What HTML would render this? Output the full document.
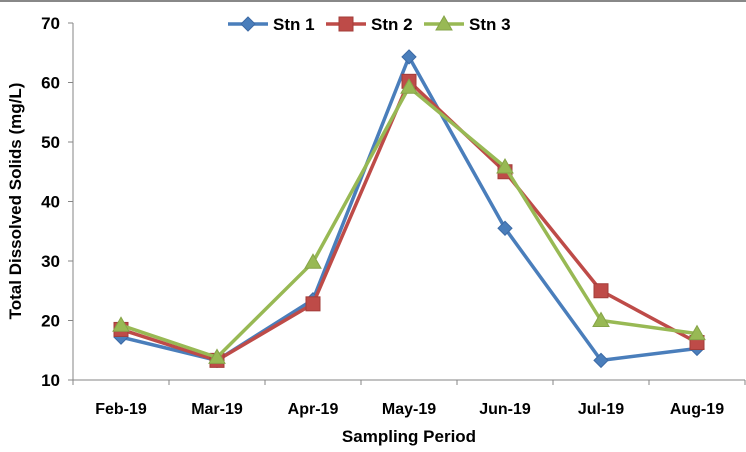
<!DOCTYPE html>
<html><head><meta charset="utf-8"><style>
body{margin:0;background:#fff;}
svg{display:block;font-family:"Liberation Sans",Arial,sans-serif;}
</style></head><body>
<svg id="c" width="746" height="452">
<rect x="0" y="0" width="746" height="2" fill="#888"/>
</svg>
<script>
const categories=["Feb-19","Mar-19","Apr-19","May-19","Jun-19","Jul-19","Aug-19"];
const stn1=[17.2,13.3,23.5,64.3,35.5,13.3,15.3];
const stn2=[18.5,13.3,22.8,60.2,45.0,25.0,16.3];
const stn3=[19.2,13.8,29.8,59.2,45.8,20.0,17.8];
const yTicks=[10,20,30,40,50,60,70];
const seriesNames=["Stn 1","Stn 2","Stn 3"];
const NS="http://www.w3.org/2000/svg";
const svg=document.getElementById('c');
const x0=73,x1=745,y0=380,y1=23;
const xs=i=>x0+(x1-x0)/categories.length*(i+0.5);
const ys=v=>y0-(v-10)/60*(y0-y1);
function mk(t,a,p){const e=document.createElementNS(NS,t);for(const k in a)e.setAttribute(k,a[k]);(p||svg).appendChild(e);return e;}
let ax=mk('line',{x1:x0,y1:y1,x2:x0,y2:y0,stroke:'#868686','stroke-width':1});


let bx=mk('line',{x1:x0,y1:y0,x2:x1,y2:y0,stroke:'#868686','stroke-width':1});


yTicks.forEach(v=>{
 mk('line',{x1:x0-5,y1:ys(v),x2:x0,y2:ys(v),stroke:'#868686'});
 const t=mk('text',{x:x0-13,y:ys(v)+6,'text-anchor':'end','font-size':17,'font-weight':'bold'});
 t.textContent=v;
 
 
});
for(let i=0;i<=categories.length;i++){const xx=x0+(x1-x0)/categories.length*i;mk('line',{x1:xx,y1:y0,x2:xx,y2:y0+5,stroke:'#868686'});}
categories.forEach((c,i)=>{
 const t=mk('text',{x:xs(i),y:y0+34,'text-anchor':'middle','font-size':16,'font-weight':'bold'});
 t.textContent=c;
 
 
});
let xt=mk('text',{x:409,y:442,'text-anchor':'middle','font-size':17,'font-weight':'bold'});xt.textContent="Sampling Period";


let yt=mk('text',{x:0,y:0,'text-anchor':'middle','font-size':17,'font-weight':'bold',transform:'translate(21,201) rotate(-90)'});yt.textContent="Total Dissolved Solids (mg/L)";


const colors=["#4a7ebb","#be4b48","#98b954"];
function marker(k,x,y,g){
 if(k===0)return mk('polygon',{points:`${x},${y-7} ${x+7},${y} ${x},${y+7} ${x-7},${y}`,fill:colors[0],stroke:'#3c6aa5'},g);
 if(k===1)return mk('rect',{x:x-7,y:y-7,width:14,height:14,fill:colors[1],stroke:'#a33c39'},g);
 return mk('polygon',{points:`${x},${y-8} ${x+8},${y+6} ${x-8},${y+6}`,fill:colors[2],stroke:'#86a448'},g);
}
[stn1,stn2,stn3].forEach((d,k)=>{
 const g=mk('g',{});
 
 
 mk('polyline',{points:d.map((v,i)=>xs(i)+','+ys(v)).join(' '),fill:'none',stroke:colors[k],'stroke-width':3.5,'stroke-linejoin':'round'},g);
 d.forEach((v,i)=>{const m=marker(k,xs(i),ys(v),g);
  
  });
});
const lx=[228,326,424];
seriesNames.forEach((n,k)=>{
 const g=mk('g',{});
 
 
 mk('line',{x1:lx[k],y1:24,x2:lx[k]+40,y2:24,stroke:colors[k],'stroke-width':3.5},g);
 marker(k,lx[k]+20,24,g);
 const t=mk('text',{x:lx[k]+45,y:30,'font-size':17,'font-weight':'bold'},g);t.textContent=n;
});
</script>
</body></html>
